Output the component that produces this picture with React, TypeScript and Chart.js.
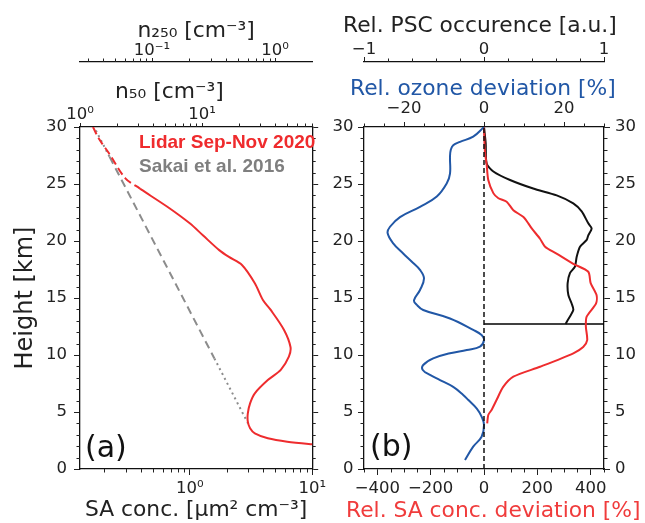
import React, { useEffect, useRef } from 'react';
import { Chart, registerables } from 'chart.js';

Chart.register(...registerables);

// ---------------- data: panel (a) ----------------
const lidarHeightKm = [30, 28.9, 27.7, 25.5, 24.6, 24.5, 23.0, 21.55, 20.5, 19.2, 18.6, 17.9, 16.3, 14.8, 14.0, 12.2, 10.7, 9.85, 8.7, 7.8, 6.64, 5.76, 4.88, 4.15, 3.57, 3.12, 2.69, 2.39, 2.17, 2.05];
const lidarSA = [0.162, 0.183, 0.219, 0.298, 0.392, 0.403, 0.656, 1.0, 1.28, 1.74, 2.09, 2.67, 3.4, 3.97, 4.55, 5.89, 6.65, 6.45, 5.54, 4.34, 3.4, 3.11, 2.98, 2.98, 3.11, 3.4, 4.34, 6.25, 10.0, 14.0];
const lidarDashedSegments = 4;

const sakaiHeightKm = [29.7, 27.4, 9.7, 4.0];
const sakaiSA = [0.171, 0.221, 1.59, 2.99];

const heightTicks = [0, 5, 10, 15, 20, 25, 30];
const saTicks = [1, 10];
const n50Ticks = [1, 10];
const n250Ticks = [0.1, 1];

// ---------------- data: panel (b) ----------------
const ozoneHeightKm = [30, 29.15, 28.7, 28.4, 28.0, 27.4, 25.9, 25.06, 23.9, 23.0, 22.1, 21.25, 20.7, 19.8, 18.9, 18.2, 17.46, 16.7, 15.7, 14.8, 14.4, 13.95, 13.2, 12.2, 11.75, 11.3, 10.73, 10.44, 10.15, 9.7, 9.12, 8.68, 8.25, 7.8, 7.2, 6.5, 6.05, 5.3, 4.6, 3.86, 2.83, 1.96, 0.79];
const ozoneDeviation = [0, -2.7, -6, -7.7, -8.3, -8.5, -8.5, -9.3, -11.8, -16, -21, -23.5, -24.1, -22.7, -20.2, -18.1, -16, -15, -16, -17.5, -16.8, -15.2, -8.5, -2.7, -0.6, 0, -1, -4.3, -8.5, -12.7, -15.2, -15.3, -13.5, -11, -7.7, -5.2, -3.9, -1.8, -0.6, 0, -0.6, -2.7, -4.75];

const saDevHeightKm = [30, 28.5, 27.7, 26.7, 25.35, 24.2, 23.75, 23.45, 22.7, 22.1, 21.55, 21.1, 20.2, 19.5, 18.9, 18.0, 17.3, 16.3, 15.26, 14.5, 13.36, 12.5, 11.3, 10.7, 10.15, 8.97, 8.1, 7.2, 6.05, 5.2, 4.74, 4.0];
const saDeviation = [0, 2, 4, 10, 16, 35, 54, 85, 110, 148, 166, 179, 210, 229, 272, 335, 391, 400, 422, 420, 385, 382, 387, 372, 335, 210, 110, 72, 47, 29, 16, 12];

const pscHeightKm = [30, 28.6, 26.8, 26.1, 25.35, 24.6, 24.0, 23.3, 22.6, 21.55, 21.1, 20.5, 20.1, 19.5, 18.6, 17.75, 17.2, 16.3, 15.26, 14.5, 13.95, 12.9, 12.72];
const pscOccurrence = [0, 0.014, 0.022, 0.078, 0.217, 0.41, 0.606, 0.744, 0.814, 0.869, 0.897, 0.869, 0.856, 0.8, 0.772, 0.758, 0.717, 0.697, 0.703, 0.731, 0.744, 0.689, 0.68];
const pscCutHeightKm = 12.72;
const pscCutRange = [0, 1];

const saDevTicks = [-400, -200, 0, 200, 400];
const ozoneTicks = [-20, 0, 20];
const pscTicks = [-1, 0, 1];

// ---------------- helpers ----------------
const FONT = 'DejaVu Sans';
const TICK_SIZE = 16.5;
const TITLE_SIZE = 21.8;
const RED = '#ee2c2e';
const BLUE = '#2157a6';

function range(a: number, b: number, step: number) {
  const out: number[] = [];
  for (let v = a; v <= b + 1e-9; v += step) out.push(Math.round(v * 1000) / 1000);
  return out;
}
const logMinors = (decades: number[]) => decades.flatMap((d) => [2, 3, 4, 5, 6, 7, 8, 9].map((m) => Math.round(m * d * 1000) / 1000));
const minorHeight = range(0, 30, 1).filter((v) => v % 5 !== 0);

const SUP: Record<string, string> = { '-': '\u207B', '0': '\u2070', '1': '\u00B9', '2': '\u00B2', '3': '\u00B3' };
function supLabel(v: number) {
  const e = Math.round(Math.log10(v));
  return '10' + String(e).split('').map((c) => SUP[c]).join('');
}
function minusLabel(v: number) {
  return v < 0 ? '\u2212' + Math.abs(v) : String(v);
}
function pts(xs: number[], ys: number[]) {
  return xs.map((x, i) => ({ x, y: ys[i] }));
}

type AxisSpec = {
  position: string;
  type?: string;
  min: number;
  max: number;
  ticks: number[];
  label: (v: number) => string;
  size: number;
  tickLen: number;
  pad: number;
  weight?: number;
  showLabels?: boolean;
  title?: { text: string; color?: string; size?: number; padding: any };
};

function makeAxis(o: AxisSpec) {
  return {
    type: o.type || 'linear',
    position: o.position,
    min: o.min,
    max: o.max,
    weight: o.weight || 0,
    afterBuildTicks: (s: any) => {
      s.ticks = o.ticks.map((v) => ({ value: v }));
    },
    afterFit: (s: any) => {
      if (s.isHorizontal()) s.height = o.size;
      else s.width = o.size;
    },
    ticks: {
      display: o.showLabels !== false,
      callback: (v: any) => o.label(Number(v)),
      font: { family: FONT, size: TICK_SIZE },
      color: '#222',
      padding: o.pad,
      maxRotation: 0,
      minRotation: 0,
      autoSkip: false,
    },
    grid: {
      display: true,
      drawOnChartArea: false,
      drawTicks: true,
      tickLength: o.tickLen,
      tickColor: '#222',
      tickWidth: 1,
      color: '#222',
    },
    border: { display: true, color: '#111', width: 1.3 },
    title: o.title
      ? {
          display: true,
          text: o.title.text,
          color: o.title.color || '#222',
          font: { family: FONT, size: o.title.size || TITLE_SIZE },
          padding: o.title.padding,
        }
      : { display: false },
  };
}

function minorTicksPlugin(items: { id: string; values: number[] }[], len = 3.5) {
  return {
    id: 'minorTicks',
    afterDraw(chart: any) {
      const ctx = chart.ctx;
      ctx.save();
      ctx.strokeStyle = '#222';
      ctx.lineWidth = 1;
      ctx.beginPath();
      for (const it of items) {
        const s = chart.scales[it.id];
        if (!s) continue;
        for (const v of it.values) {
          if (v < s.min - 1e-9 || v > s.max + 1e-9) continue;
          const p = Math.round(s.getPixelForValue(v)) + 0.5;
          if (s.position === 'left') {
            ctx.moveTo(s.right, p);
            ctx.lineTo(s.right - len, p);
          } else if (s.position === 'right') {
            ctx.moveTo(s.left, p);
            ctx.lineTo(s.left + len, p);
          } else if (s.position === 'top') {
            ctx.moveTo(p, s.bottom);
            ctx.lineTo(p, s.bottom - len);
          } else {
            ctx.moveTo(p, s.top);
            ctx.lineTo(p, s.top + len);
          }
        }
      }
      ctx.stroke();
      ctx.restore();
    },
  };
}

// free text (legend entries, panel letters, axis titles too wide for the library's title box)
type TextItem = { text: string; dx: number; dy: number; font: string; color: string };
function textPlugin(items: TextItem[]) {
  return {
    id: 'texts',
    afterDraw(chart: any) {
      const ctx = chart.ctx;
      const ca = chart.chartArea;
      ctx.save();
      ctx.textAlign = 'left';
      ctx.textBaseline = 'alphabetic';
      for (const t of items) {
        ctx.font = t.font;
        ctx.fillStyle = t.color;
        ctx.fillText(t.text, ca.left + t.dx, ca.top + t.dy);
      }
      ctx.restore();
    },
  };
}

const titleFont = `${TITLE_SIZE}px "DejaVu Sans"`;

const baseOptions = {
  responsive: false,
  animation: false as const,
  devicePixelRatio: 1,
  events: [] as any[],
  layout: { padding: 0, autoPadding: false },
  plugins: { legend: { display: false }, tooltip: { enabled: false } },
  elements: { point: { radius: 0 } },
};

function configA(): any {
  return {
    type: 'line',
    data: {
      datasets: [
        {
          data: pts(lidarSA, lidarHeightKm),
          xAxisID: 'x',
          yAxisID: 'y',
          borderColor: RED,
          borderWidth: 2,
          tension: 0.3,
          pointRadius: 0,
          fill: false,
          segment: { borderDash: (ctx: any) => (ctx.p0DataIndex < lidarDashedSegments ? [8, 4] : []) },
        },
        {
          data: pts(sakaiSA, sakaiHeightKm),
          xAxisID: 'x',
          yAxisID: 'y',
          borderColor: '#8c8c8c',
          borderWidth: 2,
          tension: 0,
          pointRadius: 0,
          fill: false,
          segment: { borderDash: (ctx: any) => (ctx.p0DataIndex === 1 ? [8, 5] : [2, 3.5]) },
        },
      ],
    },
    options: {
      ...baseOptions,
      scales: {
        y: makeAxis({
          position: 'left', min: 0, max: 30, ticks: heightTicks, label: String, size: 80, tickLen: 6, pad: 7,
          title: { text: 'Height [km]', size: 24, padding: { top: 11.5, bottom: 0 } },
        }),
        y2: makeAxis({ position: 'right', min: 0, max: 30, ticks: heightTicks, label: () => '', size: 11, tickLen: 6, pad: 0, showLabels: false }),
        x: makeAxis({
          position: 'bottom', type: 'logarithmic', min: 0.127, max: 10, ticks: saTicks, label: supLabel, size: 54, tickLen: 6, pad: 4,
          title: { text: 'SA conc. [\u03BCm\u00B2 cm\u207B\u00B3]', padding: { top: 0, bottom: 0 } },
        }),
        n50: makeAxis({ position: 'top', type: 'logarithmic', min: 1, max: 80, ticks: n50Ticks, label: supLabel, size: 65, tickLen: 4, pad: -2, weight: 0 }),
        n250: makeAxis({
          position: 'top', type: 'logarithmic', min: 0.026, max: 2.0, ticks: n250Ticks, label: supLabel, size: 62, tickLen: 4, pad: -3, weight: 1,
          title: { text: 'n\u2082\u2085\u2080 [cm\u207B\u00B3]', padding: { top: 18.7, bottom: 0 } },
        }),
      },
    },
    plugins: [
      minorTicksPlugin([
        { id: 'y', values: minorHeight },
        { id: 'y2', values: minorHeight },
        { id: 'x', values: logMinors([0.1, 1]) },
        { id: 'n50', values: logMinors([1, 10]) },
        { id: 'n250', values: logMinors([0.01, 0.1]) },
      ]),
      textPlugin([
        { text: 'Lidar Sep-Nov 2020', dx: 59, dy: 21, font: 'bold 19px "Liberation Sans"', color: '#ef2b2d' },
        { text: 'Sakai et al. 2016', dx: 59, dy: 45, font: 'bold 19px "Liberation Sans"', color: '#7f7f7f' },
        { text: '(a)', dx: 5, dy: 330, font: '30px "DejaVu Sans"', color: '#111' },
        { text: 'n\u2085\u2080 [cm\u207B\u00B3]', dx: 35, dy: -29, font: titleFont, color: '#222' },
      ]),
    ],
  };
}

function configB(): any {
  return {
    type: 'line',
    data: {
      datasets: [
        {
          data: pts([0, 0], [0, 30]),
          xAxisID: 'x',
          yAxisID: 'y',
          borderColor: '#111',
          borderWidth: 1.5,
          borderDash: [5, 3],
          pointRadius: 0,
          fill: false,
        },
        {
          data: pts(ozoneDeviation, ozoneHeightKm),
          xAxisID: 'o3',
          yAxisID: 'y',
          borderColor: BLUE,
          borderWidth: 2,
          tension: 0.4,
          pointRadius: 0,
          fill: false,
        },
        {
          data: pts(saDeviation, saDevHeightKm),
          xAxisID: 'x',
          yAxisID: 'y',
          borderColor: RED,
          borderWidth: 2,
          tension: 0.25,
          pointRadius: 0,
          fill: false,
        },
        {
          data: pts(pscOccurrence, pscHeightKm),
          xAxisID: 'psc',
          yAxisID: 'y',
          borderColor: '#111',
          borderWidth: 2,
          tension: 0.25,
          pointRadius: 0,
          fill: false,
        },
        {
          data: pts(pscCutRange, [pscCutHeightKm, pscCutHeightKm]),
          xAxisID: 'psc',
          yAxisID: 'y',
          borderColor: '#000',
          borderWidth: 1.3,
          pointRadius: 0,
          fill: false,
        },
      ],
    },
    options: {
      ...baseOptions,
      scales: {
        y: makeAxis({ position: 'left', min: 0, max: 30, ticks: heightTicks, label: String, size: 34, tickLen: 6, pad: 4.5 }),
        y2: makeAxis({ position: 'right', min: 0, max: 30, ticks: heightTicks, label: String, size: 41, tickLen: 6, pad: 5 }),
        x: makeAxis({ position: 'bottom', min: -450, max: 450, ticks: saDevTicks, label: minusLabel, size: 54, tickLen: 6, pad: 4 }),
        o3: makeAxis({ position: 'top', min: -30, max: 30, ticks: ozoneTicks, label: minusLabel, size: 65, tickLen: 5, pad: 3, weight: 0 }),
        psc: makeAxis({ position: 'top', min: -1, max: 1, ticks: pscTicks, label: minusLabel, size: 62, tickLen: 5, pad: -3, weight: 1 }),
      },
    },
    plugins: [
      minorTicksPlugin([
        { id: 'y', values: minorHeight },
        { id: 'y2', values: minorHeight },
        { id: 'x', values: range(-450, 450, 50).filter((v) => v % 200 !== 0) },
        { id: 'o3', values: range(-30, 30, 5).filter((v) => v % 20 !== 0) },
        { id: 'psc', values: range(-0.8, 0.8, 0.2).filter((v) => Math.abs(v) > 1e-6) },
      ]),
      textPlugin([
        { text: '(b)', dx: 6, dy: 329, font: '30px "DejaVu Sans"', color: '#111' },
        { text: 'Rel. PSC occurence [a.u.]', dx: -21, dy: -95, font: titleFont, color: '#222' },
        { text: 'Rel. ozone deviation [%]', dx: -14, dy: -32, font: titleFont, color: BLUE },
        { text: 'Rel. SA conc. deviation [%]', dx: -18, dy: 390, font: titleFont, color: '#f03c3c' },
      ]),
    ],
  };
}

export default function App() {
  const refA = useRef<HTMLCanvasElement>(null);
  const refB = useRef<HTMLCanvasElement>(null);
  useEffect(() => {
    const a = new Chart(refA.current as HTMLCanvasElement, configA());
    const b = new Chart(refB.current as HTMLCanvasElement, configB());
    return () => {
      a.destroy();
      b.destroy();
    };
  }, []);
  return (
    <div style={{ position: 'absolute', left: 0, top: 0, width: 645, height: 523, background: '#fff', overflow: 'hidden' }}>
      <canvas ref={refA} width={330} height={523} style={{ position: 'absolute', left: 0, top: 0 }} />
      <canvas ref={refB} width={315} height={523} style={{ position: 'absolute', left: 330, top: 0 }} />
    </div>
  );
}
